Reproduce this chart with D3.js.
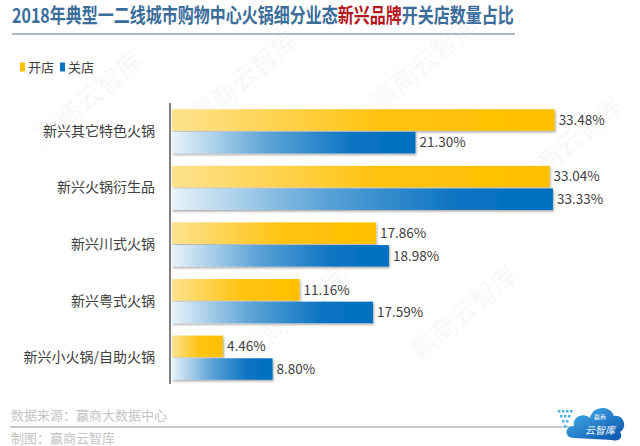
<!DOCTYPE html>
<html lang="zh">
<head>
<meta charset="utf-8">
<title>2018年典型一二线城市购物中心火锅细分业态新兴品牌开关店数量占比</title>
<script src="https://d3js.org/d3.v7.min.js"></script>
<style>
  body { margin: 0; background: #fff; }
  svg text { font-family: "Noto Sans CJK SC", "Noto Sans", sans-serif; }
</style>
</head>
<body>
<script>
// data
var categories = ["新兴其它特色火锅", "新兴火锅衍生品", "新兴川式火锅", "新兴粤式火锅", "新兴小火锅/自助火锅"];
var openShare  = [33.48, 33.04, 17.86, 11.16, 4.46];   // 开店 %
var closeShare = [21.30, 33.33, 18.98, 17.59, 8.80];   // 关店 %
var seriesNames = ["开店", "关店"];

var w = 640, h = 446;

var svg = d3.select("body").append("svg")
  .attr("width", w)
  .attr("height", h);

var defs = svg.append("defs");

// yellow gradient
var gY = defs.append("linearGradient").attr("id", "gradOpen");
gY.append("stop").attr("offset", "0%").attr("stop-color", "#fde38f");
gY.append("stop").attr("offset", "55%").attr("stop-color", "#ffc20e");
gY.append("stop").attr("offset", "100%").attr("stop-color", "#ffc000");

// blue gradient
var gB = defs.append("linearGradient").attr("id", "gradClose");
gB.append("stop").attr("offset", "0%").attr("stop-color", "#e8f3fa");
gB.append("stop").attr("offset", "40%").attr("stop-color", "#5aa2d6");
gB.append("stop").attr("offset", "75%").attr("stop-color", "#0b73c2");
gB.append("stop").attr("offset", "100%").attr("stop-color", "#0070c0");

var shadow = defs.append("filter").attr("id", "shadow")
  .attr("x", "-5%").attr("y", "-20%").attr("width", "115%").attr("height", "150%");
shadow.append("feDropShadow")
  .attr("dx", 1).attr("dy", 1.5).attr("stdDeviation", 1)
  .attr("flood-color", "#000").attr("flood-opacity", 0.35);

// watermark
var marks = [[95, 105], [250, 85], [430, 70], [300, 320], [470, 320], [575, 150]];
svg.selectAll(".wm").data(marks).enter().append("text")
  .attr("class", "wm")
  .attr("transform", function(d) { return "translate(" + d[0] + "," + d[1] + ") rotate(-40)"; })
  .attr("text-anchor", "middle")
  .attr("font-size", 26)
  .attr("fill", "#000")
  .attr("fill-opacity", 0.05)
  .text("赢商云智库");

// title (squeezed horizontally to the reference width)
var title = svg.append("text")
  .attr("font-size", 20)
  .attr("font-weight", "bold");
title.append("tspan").attr("fill", "#3b6d9b").text("2018年典型一二线城市购物中心火锅细分业态");
title.append("tspan").attr("fill", "#b3171b").text("新兴品牌");
title.append("tspan").attr("fill", "#3b6d9b").text("开关店数量占比");
var tLen = title.node().getComputedTextLength();
title.attr("transform", "translate(12,23) scale(" + (502 / tLen) + ",1)");

svg.append("line")
  .attr("x1", 12).attr("x2", 515)
  .attr("y1", 34).attr("y2", 34)
  .attr("stroke", "#8fa3b8").attr("stroke-width", 1.5);

// legend
var legendColors = ["#ffc000", "#0b73c2"];
var legendX = [20, 60];
var legend = svg.selectAll(".legend").data(seriesNames).enter().append("g")
  .attr("class", "legend")
  .attr("transform", function(d, i) { return "translate(" + legendX[i] + ",67)"; });
legend.append("rect")
  .attr("x", 0).attr("y", -4.5).attr("width", 5).attr("height", 9)
  .attr("fill", function(d, i) { return legendColors[i]; });
legend.append("text")
  .attr("x", 8).attr("y", 0)
  .attr("dy", "0.35em")
  .attr("font-size", 13)
  .attr("fill", "#404040")
  .text(function(d) { return d; });

// scales
var xScale = d3.scaleLinear().domain([0, 35]).range([172, 572]);
var yScale = d3.scaleBand().domain(categories).range([103, 386]).paddingInner(0.22).paddingOuter(0.11);
var sub = d3.scaleBand().domain([0, 1]).range([0, yScale.bandwidth()]).paddingInner(0.05);

// category axis
var yAxis = d3.axisLeft(yScale).tickSize(0).tickPadding(15);
var gy = svg.append("g")
  .attr("transform", "translate(170,0)")
  .call(yAxis);
gy.select(".domain").remove();
gy.selectAll("text")
  .attr("font-size", 14)
  .attr("fill", "#404040")
  .style("font-family", "\"Noto Sans CJK SC\", sans-serif");

svg.append("line")
  .attr("x1", 170).attr("x2", 170)
  .attr("y1", 103).attr("y2", 384)
  .attr("stroke", "#555").attr("stroke-width", 1.5);

// bars
var rows = categories.map(function(c, i) {
  return { cat: c, vals: [openShare[i], closeShare[i]] };
});
var fills = ["url(#gradOpen)", "url(#gradClose)"];

var groups = svg.selectAll(".row").data(rows).enter().append("g")
  .attr("class", "row")
  .attr("transform", function(d) { return "translate(0," + yScale(d.cat) + ")"; });

groups.selectAll("rect").data(function(d) { return d.vals; }).enter().append("rect")
  .attr("x", xScale(0))
  .attr("y", function(d, i) { return sub(i); })
  .attr("width", function(d) { return xScale(d) - xScale(0); })
  .attr("height", sub.bandwidth())
  .attr("fill", function(d, i) { return fills[i]; })
  .attr("filter", "url(#shadow)");

groups.selectAll(".val").data(function(d) { return d.vals; }).enter().append("text")
  .attr("class", "val")
  .attr("x", function(d) { return xScale(d) + 4; })
  .attr("y", function(d, i) { return sub(i) + sub.bandwidth() / 2; })
  .attr("dy", "0.35em")
  .attr("font-size", 13.5)
  .attr("fill", "#404040")
  .text(function(d) { return d.toFixed(2) + "%"; });

// footer
svg.append("text")
  .attr("x", 11).attr("y", 420)
  .attr("font-size", 13)
  .attr("fill", "#c4c4c4")
  .text("数据来源：赢商大数据中心");
svg.append("line")
  .attr("x1", 10).attr("x2", 575)
  .attr("y1", 427).attr("y2", 427)
  .attr("stroke", "#8a9aa6").attr("stroke-width", 1.2);
svg.append("text")
  .attr("x", 11).attr("y", 443)
  .attr("font-size", 13)
  .attr("fill", "#c4c4c4")
  .text("制图：赢商云智库");

// logo cloud
var logo = svg.append("g").attr("transform", "translate(560,398)");
var gL = defs.append("linearGradient").attr("id", "gradLogo")
  .attr("x1", "0%").attr("y1", "0%").attr("x2", "100%").attr("y2", "100%");
gL.append("stop").attr("offset", "0%").attr("stop-color", "#46b4ee");
gL.append("stop").attr("offset", "100%").attr("stop-color", "#0a4fa8");
logo.append("path")
  .attr("d", "M14,40 C4,40 4,28 14,28 C12,18 24,14 30,20 C32,8 50,6 54,18 C64,16 68,30 60,34 C64,40 58,44 52,42 Z")
  .attr("fill", "url(#gradLogo)");
for (var r = 0; r < 4; r++) {
  for (var c = 0; c < 4 - r; c++) {
    logo.append("rect")
      .attr("x", c * 4 + r * 2 - 2).attr("y", 12 + r * 5)
      .attr("width", 2.5).attr("height", 2.5)
      .attr("fill", "#4fb0e8");
  }
}
logo.append("text").attr("x", 40).attr("y", 21).attr("text-anchor", "middle")
  .attr("font-size", 6).attr("fill", "#fff").text("赢商");
logo.append("text").attr("x", 40).attr("y", 36).attr("text-anchor", "middle")
  .attr("font-size", 10).attr("font-style", "italic").attr("fill", "#fff").text("云智库");
</script>
</body>
</html>
